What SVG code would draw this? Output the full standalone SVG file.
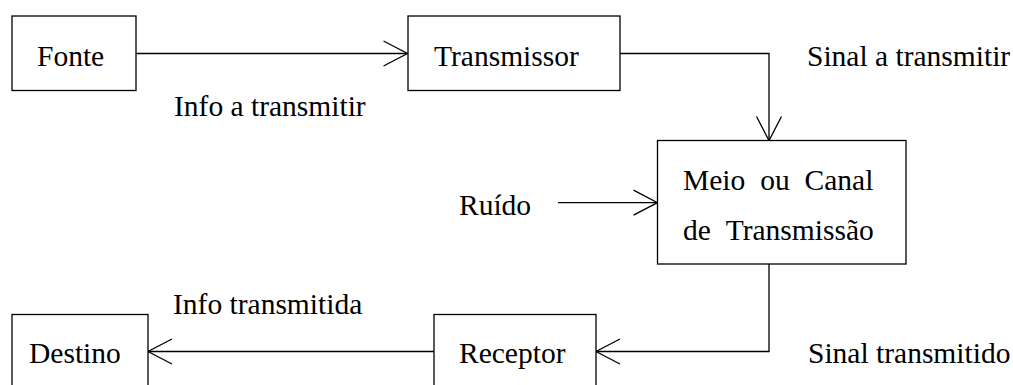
<svg xmlns="http://www.w3.org/2000/svg" width="1013" height="385" viewBox="0 0 1013 385">
<style>
.box{fill:#fff;stroke:#000;stroke-width:1.3}
text{font-family:'Liberation Serif','DejaVu Serif',serif;font-size:29.5px;fill:#000}
.conn{fill:none;stroke:#000;stroke-width:1.3}
</style>
<defs>
<marker id="arr" viewBox="-26 -14 28 28" refX="0" refY="0" markerWidth="28" markerHeight="28" markerUnits="userSpaceOnUse" orient="auto">
<path d="M-24,-12.5 L0,0 L-24,12.5" fill="none" stroke="#000" stroke-width="1.3"/>
</marker>
</defs>
<rect width="1013" height="385" fill="#fff"/>
<g id="connectors">
<path class="conn" d="M136,53.5 H407.5" marker-end="url(#arr)"/>
<path class="conn" d="M620,53.5 H769 V140.5" marker-end="url(#arr)"/>
<path class="conn" d="M558,202.7 H657.5" marker-end="url(#arr)"/>
<path class="conn" d="M769,264 V351.5 H596" marker-end="url(#arr)"/>
<path class="conn" d="M434,351.5 H148" marker-end="url(#arr)"/>
</g>
<g id="fonte">
<rect class="box" x="12" y="16" width="124" height="74.5"/>
<text x="37" y="66" font-family="Liberation Serif, serif">Fonte</text>
</g>
<g id="transmissor">
<rect class="box" x="408" y="16" width="212" height="74.5"/>
<text x="434" y="66" font-family="Liberation Serif, serif">Transmissor</text>
</g>
<g id="meio">
<rect class="box" x="657.5" y="140.5" width="248.5" height="123.5"/>
<text x="683" y="190" word-spacing="7.5" font-family="Liberation Serif, serif">Meio ou Canal</text>
<text x="683" y="240" word-spacing="8" font-family="Liberation Serif, serif">de Transmissão</text>
</g>
<g id="receptor">
<rect class="box" x="434" y="314.5" width="162" height="90"/>
<text x="459" y="363" font-family="Liberation Serif, serif">Receptor</text>
</g>
<g id="destino">
<rect class="box" x="12" y="314.5" width="136" height="90"/>
<text x="29" y="363" font-family="Liberation Serif, serif">Destino</text>
</g>
<g id="labels">
<text x="174" y="116" font-family="Liberation Serif, serif">Info a transmitir</text>
<text x="807" y="66" font-family="Liberation Serif, serif">Sinal a transmitir</text>
<text x="459" y="215" font-family="Liberation Serif, serif">Ruído</text>
<text x="173" y="314" font-family="Liberation Serif, serif">Info transmitida</text>
<text x="808" y="363" font-family="Liberation Serif, serif">Sinal transmitido</text>
</g>
</svg>
